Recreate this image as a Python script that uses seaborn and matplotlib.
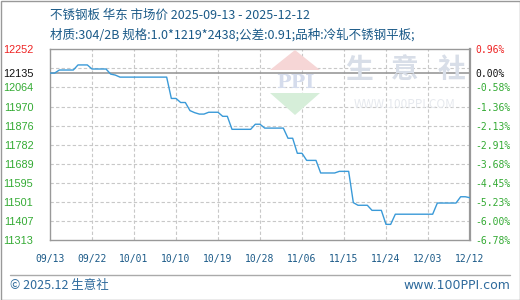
import numpy as np
import pandas as pd
import matplotlib
matplotlib.use("Agg")
import matplotlib.pyplot as plt
import matplotlib.dates as mdates
from matplotlib.patches import Polygon, Rectangle
from matplotlib.lines import Line2D
import seaborn as sns

# ---------------- data ----------------
start_date = "2025-09-13"
end_date = "2025-12-12"
prices = [
    12135, 12135, 12150, 12150, 12150, 12150, 12175, 12175, 12175, 12155,
    12155, 12155, 12155, 12130, 12125, 12115, 12115, 12115, 12115, 12115,
    12115, 12115, 12115, 12115, 12115, 12115, 12010, 12010, 11990, 11990,
    11950, 11940, 11933, 11933, 11942, 11942, 11942, 11922, 11922, 11858,
    11858, 11858, 11858, 11858, 11883, 11883, 11864, 11864, 11864, 11864,
    11864, 11814, 11814, 11740, 11740, 11705, 11705, 11705, 11643, 11643,
    11643, 11643, 11651, 11651, 11651, 11497, 11484, 11484, 11484, 11459,
    11459, 11459, 11390, 11390, 11440, 11440, 11440, 11440, 11440, 11440,
    11440, 11440, 11440, 11495, 11495, 11495, 11495, 11495, 11526, 11526,
    11521,
]
base_price = 12135
y_min, y_max = 11313, 12252
left_tick_values = [11313, 11407, 11501, 11595, 11689, 11782, 11876, 11970, 12064, 12135, 12252]
left_tick_labels = ["11313", "11407", "11501", "11595", "11689", "11782", "11876", "11970", "12064", "12135", "12252"]
right_tick_labels = ["-6.78%", "-6.00%", "-5.23%", "-4.45%", "-3.68%", "-2.91%", "-2.13%", "-1.36%", "-0.58%", "0.00%", "0.96%"]
x_tick_labels = ["09/13", "09/22", "10/01", "10/10", "10/19", "10/28", "11/06", "11/15", "11/24", "12/03", "12/12"]
title_line1 = "不锈钢板 华东 市场价 2025-09-13 - 2025-12-12"
title_line2 = "材质:304/2B 规格:1.0*1219*2438;公差:0.91;品种:冷轧不锈钢平板;"
footer_left = "© 2025.12 生意社"
footer_right = "www.100PPI.com"

dates = pd.date_range(start_date, end_date, freq="D")
df = pd.DataFrame({"date": dates, "price": prices})

# ---------------- style ----------------
sns.set_style("white")
plt.rcParams["font.family"] = ["Noto Sans CJK SC", "DejaVu Sans"]

W, H = 520, 300
fig = plt.figure(figsize=(W / 100, H / 100), dpi=100)
fig.patch.set_facecolor("white")

L, R, T, B = 50, 470, 49.3, 240
ax = fig.add_axes([L / W, 1 - B / H, (R - L) / W, (B - T) / H])
ax.set_facecolor("white")

# watermark (behind data)
def px(x, y):
    return (x / W, 1 - y / H)

fig.patches.append(Polygon([px(270, 70), px(295, 50), px(320, 70)], closed=True,
                           transform=fig.transFigure, facecolor="#f6d6d6", edgecolor="none", zorder=0.5))
fig.patches.append(Polygon([px(270, 93), px(295, 115), px(320, 93)], closed=True,
                           transform=fig.transFigure, facecolor="#d6eed9", edgecolor="none", zorder=0.5))
fig.text(295 / W, 1 - 83 / H, "PPI", ha="center", va="center", fontsize=14, color="#d5dcec",
         family=["DejaVu Serif"], fontweight="bold", zorder=0.6)
for i, ch in enumerate("生意社"):
    fig.text((359 + i * 46) / W, 1 - 70 / H, ch, ha="center", va="center", fontsize=20,
             color="#d8dee8", fontweight="bold", zorder=0.6)
fig.text(405 / W, 1 - 105 / H, "WWW.100PPI.COM", ha="center", va="center", fontsize=8.5,
         color="#e6e9ee", zorder=0.6)
ax.patch.set_alpha(0)

# grid
grid_levels = np.linspace(y_min, y_max, 11)
for lv in grid_levels[1:-1]:
    ax.axhline(lv, color="#c8c8c8", lw=0.8, ls=(0, (3, 2)), zorder=1)
tick_dates = pd.to_datetime(["2025-" + t.replace("/", "-") for t in x_tick_labels])
for d in tick_dates[1:-1]:
    ax.axvline(d, color="#c8c8c8", lw=0.8, ls=(0, (3, 2)), zorder=1)
ax.axhline(base_price, color="#999999", lw=1.2, zorder=1.5)

sns.lineplot(data=df, x="date", y="price", ax=ax, color="#3a9ad8", linewidth=1.0, zorder=3)

ax.set_xlim(dates[0], dates[-1])
ax.set_ylim(y_min, y_max)
ax.set_xlabel("")
ax.set_ylabel("")
ax.set_xticks(tick_dates)
ax.set_xticklabels(x_tick_labels, family="DejaVu Sans Mono", fontsize=7, color="#1b5a88")
ax.tick_params(axis="x", length=0, pad=10)
ax.set_yticks(left_tick_values)
ax.set_yticklabels(left_tick_labels, family="Liberation Sans", fontsize=7.8)
ax.tick_params(axis="y", length=0, pad=12)
green = "#33aa33"
for lab in ax.get_yticklabels():
    txt = lab.get_text()
    lab.set_color("#ee2222" if txt == "12252" else ("#111111" if txt == "12135" else green))

for side in ["left", "bottom", "top"]:
    ax.spines[side].set_color("#999999")
    ax.spines[side].set_linewidth(1.0)
ax.spines["right"].set_color("#999999")
ax.spines["right"].set_linewidth(1.6)

ax2 = ax.twinx()
ax2.set_ylim(y_min, y_max)
ax2.set_yticks(left_tick_values)
ax2.set_yticklabels(right_tick_labels, family="DejaVu Sans Mono", fontsize=7)
ax2.tick_params(axis="y", length=0, pad=4)
for lab in ax2.get_yticklabels():
    txt = lab.get_text()
    lab.set_color("#ee2222" if txt == "0.96%" else ("#111111" if txt == "0.00%" else green))
for s in ax2.spines.values():
    s.set_visible(False)

# titles
fig.text(50 / W, 1 - 15 / H, title_line1, ha="left", va="center", fontsize=9, color="#1b5a88")
fig.text(50 / W, 1 - 34.5 / H, title_line2, ha="left", va="center", fontsize=9, color="#1b5a88")

# footer
fig.add_artist(Line2D([10 / W, 510 / W], [1 - 275 / H, 1 - 275 / H], transform=fig.transFigure,
                      color="#aaaaaa", lw=1.0))
fig.text(10 / W, 1 - 285.5 / H, footer_left, ha="left", va="center", fontsize=9, color="#2e6a9c")
fig.text(510 / W, 1 - 285.5 / H, footer_right, ha="right", va="center", fontsize=9,
         color="#2e6a9c", family=["DejaVu Sans"])

# outer border
fig.patches.append(Rectangle((0.5 / W, 0.5 / H), (W - 1) / W, (H - 1) / H, transform=fig.transFigure,
                             fill=False, edgecolor="#999999", lw=1.0))

fig.savefig("out.png", dpi=100)
